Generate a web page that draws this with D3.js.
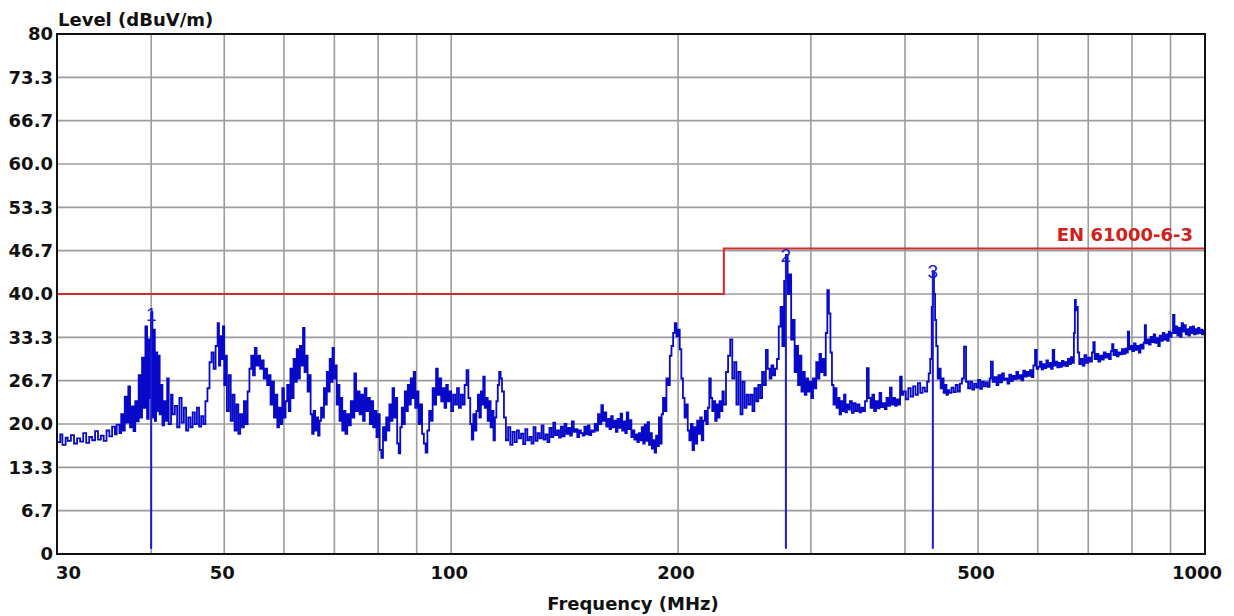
<!DOCTYPE html>
<html>
<head>
<meta charset="utf-8">
<script src="https://cdn.jsdelivr.net/npm/d3@7"></script>
<style>
  html, body { margin: 0; padding: 0; background: #fff; }
  svg { display: block; }
  .lbl { font-family: "DejaVu Sans", sans-serif; font-weight: bold; font-size: 18px; fill: #111; }
</style>
</head>
<body>
<svg id="chart" width="1234" height="616"></svg>
<script>
// axis ticks
const yTicks = [0, 6.667, 13.333, 20, 26.667, 33.333, 40, 46.667, 53.333, 60, 66.667, 73.333, 80];
const yTickLabels = ['0', '6.7', '13.3', '20.0', '26.7', '33.3', '40.0', '46.7', '53.3', '60.0', '66.7', '73.3', '80'];
const xGrid = [40, 50, 60, 70, 80, 90, 100, 200, 300, 400, 500, 600, 700, 800, 900];
const xTickLabels = [30, 50, 100, 200, 500, 1000];

// EN 61000-6-3 limit (MHz, dBuV/m)
const limitFreqs = [30, 230, 230, 1000];
const limitLevels = [40, 40, 47, 47];

// markers
const markerLabels = ['1', '2', '3'];
const markerFreqs = [40.0, 278.0, 435.5];
const markerLevels = [37.0, 46.0, 43.5];

const traceSweep = [
  [30.0,17.2],[30.3,18.4],[30.5,16.8],[30.8,17.9],[31.0,17.4],[31.3,18.3],[31.6,17.0],[31.9,17.8],[32.2,17.3],[32.5,18.6],
  [32.8,17.1],[33.1,18.0],[33.4,17.5],[33.7,18.9],[34.0,17.6],[34.3,18.2],[34.6,17.4],[34.9,19.0],[35.2,18.1],[35.5,19.6],
  [35.8,18.4],[36.0,19.9],[36.3,18.6],[36.5,21.5],[36.7,19.0],[36.9,24.2],[37.1,20.2],[37.3,25.8],[37.5,19.5],[37.7,22.7],
  [37.9,18.9],[38.1,23.5],[38.3,20.4],[38.5,27.5],[38.7,21.0],[38.9,30.2],[39.1,22.5],[39.3,35.0],[39.5,20.8],[39.7,33.0],
  [39.85,24.0],[40.0,37.2],[40.15,21.0],[40.3,34.5],[40.45,20.5],[40.6,31.0],[40.75,22.0],[40.9,30.5],[41.05,21.5],[41.2,26.0],
  [41.4,19.8],[41.6,23.5],[41.8,20.5],[42.0,27.0],[42.2,20.0],[42.5,24.5],[42.7,21.5],[43.0,22.8],[43.3,19.5],[43.6,24.0],
  [43.9,20.2],[44.2,22.5],[44.5,19.0],[44.8,21.0],[45.1,19.5],[45.4,21.8],[45.7,20.0],[46.0,22.5],[46.3,19.6],[46.6,21.2],
  [46.9,20.0],[47.2,23.5],[47.5,25.5],[47.8,29.5],[48.1,31.0],[48.4,28.5],[48.7,32.0],[49.0,35.5],[49.2,29.0],[49.4,33.5],
  [49.6,30.0],[49.8,35.0],[50.0,26.0],[50.2,30.5],[50.4,22.0],[50.7,27.5],[51.0,20.5],[51.3,24.5],[51.6,19.0],[51.9,23.0],
  [52.2,18.5],[52.5,21.5],[52.8,19.5],[53.1,23.5],[53.4,20.0],[53.7,25.0],[54.0,28.5],[54.3,30.5],[54.6,27.5],[54.9,31.7],
  [55.2,29.0],[55.5,30.5],[55.8,28.5],[56.1,29.8],[56.4,27.0],[56.7,28.5],[57.0,26.0],[57.3,27.5],[57.6,23.0],[57.9,26.5],
  [58.2,21.0],[58.5,24.5],[58.8,19.5],[59.1,22.5],[59.4,20.0],[59.7,25.5],[60.0,21.0],[60.3,23.5],[60.6,26.0],[60.9,22.0],
  [61.2,28.5],[61.5,24.0],[61.8,30.0],[62.1,26.5],[62.4,31.5],[62.7,27.0],[63.0,32.0],[63.3,29.0],[63.6,34.8],[63.9,28.0],
  [64.2,30.5],[64.5,25.0],[64.8,27.5],[65.1,21.5],[65.4,18.5],[65.7,22.0],[66.0,19.0],[66.3,21.0],[66.6,18.2],[66.9,20.5],
  [67.2,22.5],[67.5,21.0],[67.8,25.5],[68.1,23.0],[68.4,28.0],[68.7,25.0],[69.0,30.0],[69.3,26.5],[69.6,31.7],[69.9,27.0],
  [70.2,29.0],[70.5,23.0],[70.8,26.0],[71.1,20.5],[71.4,24.0],[71.7,19.0],[72.0,22.0],[72.4,18.5],[72.8,21.5],[73.2,19.8],
  [73.6,23.5],[74.0,21.0],[74.4,27.8],[74.8,22.0],[75.2,25.0],[75.6,21.5],[76.0,24.5],[76.4,20.5],[76.8,25.5],[77.2,22.0],
  [77.6,24.0],[78.0,20.0],[78.4,23.5],[78.8,19.5],[79.2,22.0],[79.6,18.0],[80.0,21.5],[80.4,16.0],[80.8,14.8],[81.2,19.5],
  [81.6,17.5],[82.0,21.0],[82.4,19.0],[82.8,23.0],[83.2,20.5],[83.6,25.5],[84.0,21.0],[84.4,24.0],[84.8,17.0],[85.2,15.5],
  [85.6,19.5],[86.0,22.5],[86.4,20.0],[86.8,25.0],[87.2,22.0],[87.6,26.0],[88.0,23.0],[88.4,27.0],[88.8,24.0],[89.2,28.0],
  [89.6,22.5],[90.0,25.0],[90.5,20.0],[91.0,23.0],[91.5,18.5],[92.0,17.0],[92.5,15.6],[93.0,19.0],[93.5,22.0],[94.0,20.5],
  [94.5,25.5],[95.0,23.0],[95.5,28.5],[96.0,24.5],[96.5,27.0],[97.0,23.5],[97.5,25.5],[98.0,22.5],[98.5,26.0],[99.0,23.5],
  [99.5,25.0],[100.0,22.0],[100.6,24.5],[101.2,23.0],[101.8,25.5],[102.4,22.5],[103.0,24.5],[103.6,23.0],[104.2,26.0],[104.8,28.3],
  [105.4,24.0],[106.0,20.0],[106.5,17.6],[107.0,21.5],[107.5,19.0],[108.0,22.0],[108.5,24.5],[109.0,21.0],[109.5,25.0],[110.0,23.0],
  [110.3,27.3],[110.8,22.5],[111.3,24.0],[111.8,20.5],[112.3,23.5],[112.8,19.5],[113.3,22.0],[113.8,17.5],[114.3,21.0],[114.8,23.5],
  [115.3,26.0],[115.8,28.0],[116.3,27.0],[116.8,25.0],[117.5,21.0],[118.2,17.5],[119.0,19.5],[119.8,16.8],[120.6,18.8],[121.4,17.2],
  [122.2,19.0],[123.0,17.8],[123.8,18.5],[124.6,16.9],[125.4,19.2],[126.2,17.5],[127.0,18.0],[127.8,17.0],[128.6,19.5],[129.4,17.4],
  [130.2,18.6],[131.0,17.8],[131.8,19.8],[132.6,17.6],[133.4,18.4],[134.2,17.2],[135.0,19.4],[135.8,18.0],[136.6,20.2],[137.4,18.3],
  [138.2,19.0],[139.0,17.9],[139.8,19.6],[140.6,18.1],[141.4,20.0],[142.2,18.5],[143.0,19.4],[143.8,18.2],[144.6,20.4],[145.4,18.8],
  [146.2,19.2],[147.0,18.0],[147.8,19.0],[148.6,18.6],[149.4,18.2],[150.2,19.6],[151.0,18.4],[151.8,19.8],[152.6,18.3],[153.4,19.0],
  [154.2,18.8],[155.0,20.0],[155.8,19.0],[156.6,21.5],[157.4,20.0],[158.2,22.9],[159.0,20.5],[159.8,21.8],[160.6,19.6],[161.4,20.8],
  [162.2,19.2],[163.0,21.2],[163.8,19.5],[164.6,20.5],[165.4,18.8],[166.2,20.8],[167.0,19.4],[167.8,21.6],[168.6,19.0],[169.4,20.4],
  [170.2,18.6],[171.0,21.8],[171.8,19.2],[172.6,20.6],[173.4,18.0],[174.2,19.0],[175.0,17.6],[175.8,18.4],[176.6,17.2],[177.4,18.6],
  [178.2,17.5],[179.0,19.5],[179.8,17.0],[180.6,19.9],[181.4,17.4],[182.2,20.3],[183.0,16.8],[183.8,18.6],[184.6,16.2],[185.4,17.5],
  [186.2,15.6],[187.0,18.2],[187.8,16.6],[188.6,21.0],[189.4,17.0],[190.2,21.5],[191.0,24.0],[192.0,22.0],[193.0,27.0],[194.0,26.0],
  [195.0,30.5],[196.0,32.0],[197.0,34.0],[198.0,35.5],[199.0,33.5],[200.0,34.5],[201.0,31.5],[202.0,27.0],[203.0,24.0],[204.0,21.0],
  [205.0,23.0],[206.0,19.0],[207.0,17.5],[208.0,20.0],[209.0,16.0],[210.0,19.5],[211.0,17.0],[212.0,20.5],[213.0,18.5],[214.0,21.0],
  [215.0,17.5],[216.0,20.5],[217.0,22.0],[218.0,20.0],[219.0,22.5],[220.0,27.0],[221.0,24.0],[222.0,22.0],[223.0,23.5],[224.0,20.5],
  [225.0,23.0],[226.0,21.0],[227.0,23.5],[228.0,22.0],[229.0,25.0],[230.0,23.0],[231.5,28.0],[233.0,30.5],[234.5,33.0],[236.0,27.0],
  [237.5,29.5],[239.0,23.0],[240.5,28.0],[242.0,21.5],[243.5,26.5],[245.0,22.5],[246.5,24.5],[248.0,23.0],[249.5,24.5],[251.0,22.0],
  [252.5,25.5],[254.0,23.5],[255.5,26.0],[257.0,24.0],[258.5,28.0],[260.0,26.0],[261.5,31.4],[263.0,28.5],[264.5,27.0],[266.0,29.0],
  [267.5,27.5],[269.0,28.5],[270.5,30.0],[272.0,35.0],[273.5,38.0],[275.0,32.0],[276.5,42.0],[278.0,46.0],[279.5,40.0],[281.0,43.0],
  [282.5,33.0],[284.0,36.0],[285.5,28.0],[287.0,32.0],[288.5,26.0],[290.0,30.5],[291.5,25.0],[293.0,28.0],[294.5,24.5],[296.0,27.0],
  [297.5,25.0],[299.0,26.5],[300.5,24.0],[302.0,27.0],[303.5,25.5],[305.0,29.5],[306.5,27.0],[308.0,30.8],[309.5,28.0],[311.0,30.0],
  [312.5,27.5],[314.0,34.0],[315.5,40.6],[317.0,37.0],[318.5,31.0],[320.0,26.0],[321.5,23.0],[323.0,25.5],[324.5,22.5],[326.0,24.0],
  [327.5,21.5],[329.0,23.5],[330.5,22.0],[332.0,24.5],[333.5,21.8],[335.0,23.0],[336.5,22.2],[338.0,23.5],[340.0,21.7],[342.0,23.2],
  [344.0,22.0],[346.0,23.0],[348.0,21.8],[350.0,22.5],[352.0,22.0],[354.0,23.5],[356.0,28.6],[358.0,24.0],[360.0,22.5],[362.0,24.5],
  [364.0,22.0],[366.0,23.5],[368.0,22.4],[370.0,24.8],[372.0,22.6],[374.0,23.2],[376.0,22.3],[378.0,24.0],[380.0,22.8],[382.0,25.6],
  [384.0,23.0],[386.0,24.0],[388.0,22.8],[390.0,23.8],[392.0,23.0],[394.0,27.3],[396.0,24.5],[398.0,25.0],[401.0,23.8],[404.0,25.5],
  [407.0,24.2],[410.0,25.8],[413.0,24.5],[416.0,26.3],[419.0,24.8],[422.0,25.6],[425.0,25.0],[428.0,26.5],[430.0,27.8],[432.0,30.0],
  [434.0,38.0],[435.5,43.5],[437.0,40.0],[438.5,36.0],[440.0,32.0],[442.0,27.0],[444.0,28.5],[446.0,25.5],[448.0,27.0],[450.0,24.8],
  [452.0,26.0],[454.0,24.5],[456.0,25.2],[458.0,24.8],[461.0,25.6],[464.0,24.9],[467.0,26.0],[470.0,25.0],[473.0,26.2],[476.0,27.0],
  [479.0,31.9],[482.0,26.5],[485.0,25.5],[488.0,26.5],[491.0,25.3],[494.0,26.2],[497.0,25.6],[500.0,26.8],[503.0,25.4],[506.0,26.5],
  [509.0,25.8],[512.0,26.4],[515.0,25.7],[518.0,27.0],[520.0,29.6],[523.0,26.5],[526.0,27.2],[529.0,26.0],[532.0,27.5],[535.0,26.4],
  [538.0,27.8],[541.0,26.8],[544.0,27.0],[547.0,26.2],[550.0,27.6],[553.0,26.6],[556.0,27.4],[559.0,26.9],[562.0,28.0],[565.0,27.0],
  [568.0,27.5],[571.0,26.7],[574.0,28.2],[577.0,27.3],[580.0,28.0],[583.0,27.4],[586.0,28.3],[589.0,27.2],[592.0,29.0],[595.0,31.4],
  [598.0,28.5],[601.0,28.8],[604.0,29.6],[607.0,28.4],[610.0,29.2],[613.0,28.6],[616.0,29.8],[619.0,28.8],[622.0,29.4],[625.0,28.5],
  [628.0,31.4],[631.0,29.0],[634.0,29.6],[637.0,28.7],[640.0,29.4],[643.0,28.8],[646.0,29.7],[649.0,29.0],[652.0,29.5],[655.0,28.9],
  [658.0,30.0],[661.0,29.2],[664.0,30.3],[667.0,29.4],[670.0,34.0],[672.0,39.1],[674.0,37.5],[676.0,38.0],[678.0,31.0],[681.0,29.2],
  [684.0,30.0],[688.0,29.0],[692.0,30.6],[696.0,29.4],[700.0,30.2],[704.0,29.6],[708.0,31.0],[711.0,32.6],[714.0,30.0],[718.0,30.8],
  [722.0,29.6],[726.0,30.5],[730.0,29.9],[734.0,31.0],[738.0,30.2],[742.0,30.8],[746.0,30.0],[750.0,31.2],[753.0,32.3],[756.0,30.6],
  [760.0,31.4],[764.0,30.4],[768.0,31.0],[772.0,30.7],[776.0,31.5],[780.0,30.8],[784.0,31.6],[787.0,31.0],[790.0,34.2],[793.0,31.5],
  [797.0,32.0],[801.0,31.2],[805.0,32.4],[809.0,31.4],[813.0,32.0],[817.0,31.0],[821.0,32.2],[825.0,31.6],[829.0,32.5],[832.0,35.2],
  [835.0,32.4],[839.0,33.0],[843.0,32.2],[847.0,33.4],[851.0,32.6],[855.0,33.8],[859.0,32.5],[863.0,33.2],[867.0,32.0],[871.0,33.6],
  [875.0,32.8],[879.0,34.0],[883.0,33.0],[887.0,33.8],[891.0,32.8],[895.0,34.2],[899.0,33.4],[903.0,34.0],[907.0,36.8],[911.0,34.0],
  [915.0,35.0],[919.0,33.6],[923.0,34.8],[927.0,33.4],[931.0,35.5],[935.0,34.2],[939.0,35.2],[943.0,33.8],[947.0,34.6],[951.0,33.6],
  [955.0,34.9],[959.0,34.0],[963.0,35.0],[967.0,33.8],[971.0,34.6],[975.0,33.9],[979.0,34.8],[983.0,34.0],[987.0,34.5],[991.0,33.8],
  [995.0,34.4],[1000.0,34.0]
];

const svg = d3.select('#chart');
const plotLeft = 57, plotRight = 1205, plotTop = 34, plotBottom = 554;

const x = d3.scaleLog().domain([30, 1000]).range([plotLeft, plotRight]);
const y = d3.scaleLinear().domain([0, 80]).range([plotBottom, plotTop]);

// grid
const grid = svg.append('g').attr('stroke', '#9c9c9c').attr('stroke-width', 1.6);
grid.selectAll('line.v')
  .data(xGrid)
  .enter().append('line')
  .attr('x1', d => x(d)).attr('x2', d => x(d))
  .attr('y1', plotTop).attr('y2', plotBottom);
grid.selectAll('line.h')
  .data(yTicks.slice(1, -1))
  .enter().append('line')
  .attr('x1', plotLeft).attr('x2', plotRight)
  .attr('y1', d => y(d)).attr('y2', d => y(d));

// limit line
const limitLine = d3.line()
  .x(d => x(d[0]))
  .y(d => y(d[1]));
svg.append('path')
  .datum(limitFreqs.map((f, i) => [f, limitLevels[i]]))
  .attr('d', limitLine)
  .attr('fill', 'none')
  .attr('stroke', '#d42a2a')
  .attr('stroke-width', 2);

svg.append('text')
  .attr('class', 'lbl')
  .attr('x', 1193).attr('y', 241)
  .attr('text-anchor', 'end')
  .style('fill', '#cf2020')
  .text('EN 61000-6-3');

// measured trace
const traceLine = d3.line()
  .x(d => x(d[0]))
  .y(d => y(d[1]))
  .curve(d3.curveStepAfter);
svg.append('path')
  .datum(traceSweep)
  .attr('d', traceLine)
  .attr('fill', 'none')
  .attr('stroke', '#0808c8')
  .attr('stroke-width', 1.8);

// marker drop lines + numbers
svg.selectAll('line.marker')
  .data(markerFreqs)
  .enter().append('line')
  .attr('x1', d => x(d)).attr('x2', d => x(d))
  .attr('y1', (d, i) => y(markerLevels[i])).attr('y2', y(0.8))
  .attr('stroke', '#1a1ad0')
  .attr('stroke-width', 2);
svg.selectAll('text.marker')
  .data(markerLabels)
  .enter().append('text')
  .attr('x', (d, i) => x(markerFreqs[i]))
  .attr('y', (d, i) => y(markerLevels[i]) + 7)
  .attr('text-anchor', 'middle')
  .attr('font-family', 'Liberation Sans, Arial, sans-serif')
  .attr('font-size', 19)
  .attr('fill', '#1a1ad0')
  .text(d => d);

// frame
svg.append('rect')
  .attr('x', plotLeft).attr('y', plotTop)
  .attr('width', plotRight - plotLeft).attr('height', plotBottom - plotTop)
  .attr('fill', 'none')
  .attr('stroke', '#111')
  .attr('stroke-width', 2);

// y labels
svg.selectAll('text.ytick')
  .data(yTicks)
  .enter().append('text')
  .attr('class', 'lbl')
  .attr('x', 53)
  .attr('y', d => y(d))
  .attr('dy', '0.36em')
  .attr('text-anchor', 'end')
  .text((d, i) => yTickLabels[i]);

// x labels
svg.selectAll('text.xtick')
  .data(xTickLabels)
  .enter().append('text')
  .attr('class', 'lbl')
  .attr('x', (d, i) => i == 0 ? x(d) - 1 : (i == xTickLabels.length - 1 ? x(d) + 17 : x(d) - 2))
  .attr('y', 579)
  .attr('text-anchor', (d, i) => i == 0 ? 'start' : (i == xTickLabels.length - 1 ? 'end' : 'middle'))
  .text(d => d);

svg.append('text')
  .attr('class', 'lbl')
  .attr('x', 58).attr('y', 26)
  .text('Level (dBuV/m)');

svg.append('text')
  .attr('class', 'lbl')
  .attr('x', 633).attr('y', 610)
  .attr('text-anchor', 'middle')
  .text('Frequency (MHz)');
</script>
</body>
</html>
